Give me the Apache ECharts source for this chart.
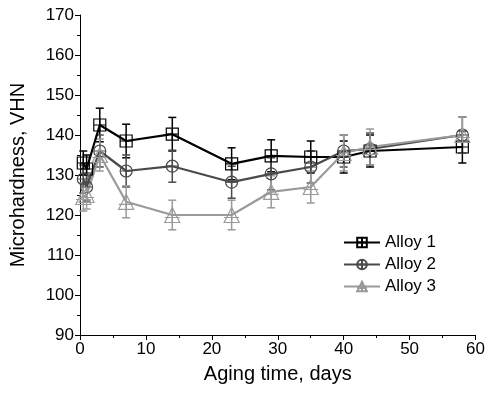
<!DOCTYPE html>
<html>
<head>
<meta charset="utf-8">
<script src="https://cdn.jsdelivr.net/npm/echarts@6/dist/echarts.min.js"></script>
<style>
  html, body { margin: 0; padding: 0; background: #fff; }
  #chart { width: 488px; height: 398px; }
</style>
</head>
<body>
<div id="chart"></div>
<script>
// aging time (days)
var days = [0.5, 1, 3, 7, 14, 23, 29, 35, 40, 44, 58];
// microhardness, VHN
var alloy1 = [133, 131.5, 142.5, 138.5, 140.2, 132.8, 134.8, 134.5, 134.5, 136, 137];
var alloy2 = [129, 127, 136, 131, 132.2, 128.2, 130.3, 132, 136, 136.5, 140];
var alloy3 = [124.5, 125, 135, 123.3, 120, 120, 125.8, 127, 135.5, 137, 140];
// error bars (+/-)
var err1 = [3, 3.5, 4.2, 4.2, 4.2, 4, 4, 4, 4, 4, 4];
var err2 = [3.5, 3.5, 4, 4, 4, 4, 4, 4, 4, 4, 4.5];
var err3 = [3.5, 3.5, 4, 4, 3.7, 3.7, 4, 4, 4.5, 4.5, 4.5];

var names = ['Alloy 1', 'Alloy 2', 'Alloy 3'];
var colors = ['#000000', '#4a4a4a', '#9a9a9a'];
var symbols = [
  'path://M0,0H10V10H0Z M5,0V10 M0,5H10',
  'path://M0,5A5,5 0 1 1 10,5A5,5 0 1 1 0,5Z M5,0V10 M0,5H10',
  'path://M7,0L14,12H0Z M7,0V12 M0,8H14'
];
var sizes = [12, 12, 15];

var chart = echarts.init(document.getElementById('chart'));

function pairs(ys, es) {
  return days.map(function (d, i) { return es ? [d, ys[i], es[i]] : [d, ys[i]]; });
}

function errRender(color) {
  return function (params, api) {
    var x = api.value(0), y = api.value(1), e = api.value(2);
    var top = api.coord([x, y + e]);
    var bot = api.coord([x, y - e]);
    var w = 4;
    var st = { stroke: color, lineWidth: 1.5 };
    return {
      type: 'group',
      children: [
        { type: 'line', shape: { x1: top[0], y1: top[1], x2: bot[0], y2: bot[1] }, style: st },
        { type: 'line', shape: { x1: top[0] - w, y1: top[1], x2: top[0] + w, y2: top[1] }, style: st },
        { type: 'line', shape: { x1: bot[0] - w, y1: bot[1], x2: bot[0] + w, y2: bot[1] }, style: st }
      ]
    };
  };
}

var values = [alloy1, alloy2, alloy3];
var errs = [err1, err2, err3];
var series = [];
values.forEach(function (v, k) {
  series.push({
    name: names[k] + ' err',
    type: 'custom',
    renderItem: errRender(colors[k]),
    data: pairs(v, errs[k]),
    encode: { x: 0, y: 1 },
    z: 2,
    silent: true
  });
});
values.forEach(function (v, k) {
  series.push({
    name: names[k],
    type: 'line',
    data: pairs(v),
    symbol: symbols[k],
    symbolSize: sizes[k],
    showAllSymbol: true,
    lineStyle: { color: colors[k], width: 2.2 },
    itemStyle: { color: 'rgba(255,255,255,0)', borderColor: colors[k], borderWidth: 1.2 },
    z: 3
  });
});

var font = 'Liberation Sans, Arial, sans-serif';
var option = {
  animation: false,
  backgroundColor: '#fff',
  grid: { left: 78, right: 10, top: 15, bottom: 63 },
  legend: {
    data: names.map(function (n) { return { name: n, itemStyle: { color: 'rgba(255,255,255,0)' } }; }),
    orient: 'vertical',
    left: 338,
    top: 229,
    itemWidth: 36,
    itemHeight: 12,
    itemGap: 5,
    textStyle: { fontFamily: font, fontSize: 17, color: '#000' }
  },
  xAxis: {
    type: 'value',
    min: 0, max: 60, interval: 10,
    name: 'Aging time, days',
    nameLocation: 'middle',
    nameGap: 29,
    nameTextStyle: { fontFamily: font, fontSize: 20, color: '#000' },
    axisLine: { lineStyle: { color: '#000', width: 1 } },
    axisTick: { inside: false, length: 5, lineStyle: { color: '#000' } },
    minorTick: { show: true, splitNumber: 2, length: 3, lineStyle: { color: '#000' } },
    axisLabel: { fontFamily: font, fontSize: 17, color: '#000', margin: 6 },
    splitLine: { show: false }
  },
  yAxis: {
    type: 'value',
    min: 90, max: 170, interval: 10,
    name: 'Microhardness, VHN',
    nameLocation: 'middle',
    nameGap: 52,
    nameTextStyle: { fontFamily: font, fontSize: 20, color: '#000' },
    axisLine: { show: true, lineStyle: { color: '#000', width: 1 } },
    axisTick: { show: true, inside: false, length: 5, lineStyle: { color: '#000' } },
    minorTick: { show: true, splitNumber: 2, length: 3, lineStyle: { color: '#000' } },
    axisLabel: { fontFamily: font, fontSize: 17, color: '#000', margin: 6 },
    splitLine: { show: false }
  },
  series: series
};
chart.setOption(option);
</script>
</body>
</html>
